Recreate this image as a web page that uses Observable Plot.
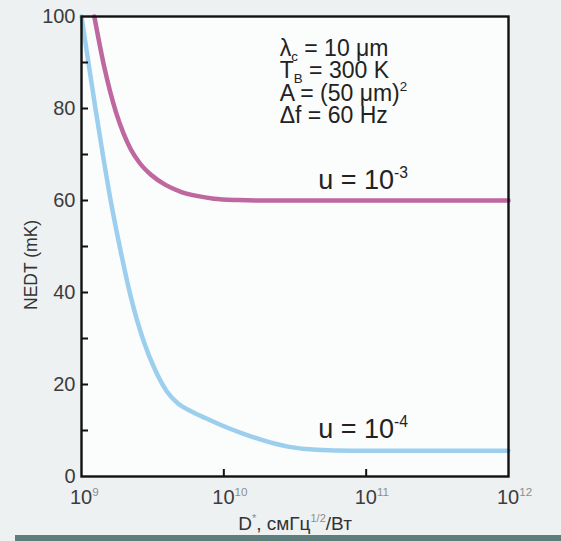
<!DOCTYPE html>
<html>
<head>
<meta charset="utf-8">
<script src="https://cdn.jsdelivr.net/npm/d3@7"></script>
<script src="https://cdn.jsdelivr.net/npm/@observablehq/plot@0.6"></script>
<style>
  html, body { margin: 0; padding: 0; }
  body { width: 561px; height: 541px; overflow: hidden; background: #edf1f2; position: relative;
         font-family: "Liberation Sans", Arial, Helvetica, sans-serif; }
  #bar { position: absolute; left: 15px; top: 535px; width: 546px; height: 6px; background: #5e7e7e; }
</style>
</head>
<body>
<div id="chart"></div>
<div id="bar"></div>
<script>
// ---- data ----
// u = 10^-4 curve: log10(D*) and NEDT (mK)
const logD_u4 = [9.0, 9.049, 9.1, 9.153, 9.209, 9.273, 9.346, 9.438, 9.52, 9.6, 9.68, 9.77, 9.87, 9.979, 10.12, 10.26, 10.45, 10.65, 10.9, 11.5, 12.0];
const nedt_u4 = [100, 89.9, 79.6, 69.4, 59.3, 49.3, 39.1, 29.3, 23.0, 18.5, 15.8, 14.2, 12.7, 11.2, 9.5, 8.0, 6.5, 5.8, 5.6, 5.6, 5.6];
// u = 10^-3 curve
const logD_u3 = [9.09, 9.16, 9.242, 9.295, 9.347, 9.41, 9.488, 9.59, 9.698, 9.81, 9.93, 10.1, 10.26, 11.0, 12.0];
const nedt_u3 = [100, 89.0, 79.2, 74.6, 71.1, 68.1, 65.6, 63.4, 61.9, 61.0, 60.4, 60.1, 60.0, 60.0, 60.0];

const seriesNames = ["u = 10^{-4}", "u = 10^{-3}"];
const seriesColors = ["#9ccfee", "#bf679f"];

const xTickValues = [1e9, 1e10, 1e11, 1e12];
const yTickLabels = [0, 20, 40, 60, 80, 100];
const yMinorTicks = [10, 20, 30, 40, 50, 60, 70, 80, 90];
const xInnerTicks = [1e10, 1e11];

const annotationLines = ["λ_{c} = 10 μm", "T_{B} = 300 K", "A = (50 μm)^{2}", "Δf = 60 Hz"];
const xLabel = "D^{*}, смГц^{1/2}/Вт";
const yLabel = "NEDT (mK)";

// label anchors (data units)
const seriesLabelX = 4.6e10;
const seriesLabelY = [8.4, 62.6];
const annotX = 2.47e10;
const annotTopY = 91.4;
const annotStep = 4.85;
const yLabelY = 46;

// ---- build tables ----
const u4 = logD_u4.map((l, i) => ({d: Math.pow(10, l), v: nedt_u4[i]}));
const u3 = logD_u3.map((l, i) => ({d: Math.pow(10, l), v: nedt_u3[i]}));

const W = 561, H = 535;
const mL = 81, mR = 53, mT = 16, mB = 59;
const plotW = W - mL - mR, plotH = H - mT - mB;
const font = "Liberation Sans, Arial, Helvetica, sans-serif";

const chart = Plot.plot({
  width: W, height: H,
  marginLeft: mL, marginRight: mR, marginTop: mT, marginBottom: mB,
  style: {background: "transparent", fontFamily: font, overflow: "visible"},
  x: {type: "log", domain: [1e9, 1e12], axis: null},
  y: {domain: [0, 100], axis: null},
  marks: [
    Plot.frame({fill: "#fbfcfc", stroke: null}),
    Plot.line(u3, {x: "d", y: "v", stroke: seriesColors[1], strokeWidth: 4.5, curve: "monotone-x"}),
    Plot.line(u4, {x: "d", y: "v", stroke: seriesColors[0], strokeWidth: 4.5, curve: "monotone-x"}),
    Plot.tickY(yMinorTicks, {y: d => d, stroke: "#111", strokeWidth: 2, insetRight: plotW - 7}),
    Plot.tickX(xInnerTicks, {x: d => d, stroke: "#111", strokeWidth: 2, insetTop: plotH - 7}),
    Plot.frame({stroke: "#111", strokeWidth: 2.4}),
    // y tick labels
    Plot.text(yTickLabels, {y: d => d, frameAnchor: "left", text: d => String(d), textAnchor: "end",
      dx: -6, fontSize: 20, fill: "#3c3c3c"}),
    // x tick labels
    Plot.text(xTickValues, {x: d => d, frameAnchor: "bottom", text: d => "10^{" + Math.round(Math.log10(d)) + "}",
      textAnchor: "start", dx: -11.5, dy: 27, lineAnchor: "bottom", fontSize: 20, fill: "#3c3c3c"}),
    // axis labels
    Plot.text([xLabel], {frameAnchor: "bottom", text: d => d, dy: 53, lineAnchor: "bottom", fontSize: 19, fill: "#333"}),
    Plot.text([yLabel], {frameAnchor: "left", y: () => yLabelY, text: d => d, rotate: -90, dx: -50,
      textAnchor: "middle", fontSize: 17.5, fill: "#333"}),
    // series labels
    Plot.text(seriesNames, {x: () => seriesLabelX, y: (d, i) => seriesLabelY[i], text: d => d,
      textAnchor: "start", lineAnchor: "bottom", fontSize: 27, fill: "#222"}),
    // parameter annotation
    Plot.text(annotationLines, {x: () => annotX, y: (d, i) => annotTopY - i * annotStep, text: d => d,
      textAnchor: "start", lineAnchor: "bottom", fontSize: 23, fill: "#222"})
  ]
});

document.getElementById("chart").appendChild(chart);

// rich text: ^{...} superscript, _{...} subscript
function rich(el) {
  const s = el.textContent;
  const re = /([\^_])\{([^}]*)\}/g;
  if (!/[\^_]\{/.test(s)) return;
  const fs = parseFloat(getComputedStyle(el).fontSize) || 16;
  const isTick = /^10\^\{\d+\}$/.test(s) || s.startsWith("D^");
  el.textContent = "";
  let last = 0, shift = 0, m;
  const add = (txt, dy, size, fill) => {
    const t = document.createElementNS("http://www.w3.org/2000/svg", "tspan");
    t.textContent = txt;
    if (dy) t.setAttribute("dy", dy);
    if (size) t.setAttribute("font-size", size);
    if (fill) t.setAttribute("fill", fill);
    el.appendChild(t);
  };
  while ((m = re.exec(s))) {
    if (m.index > last) { add(s.slice(last, m.index), -shift || null); shift = 0; }
    const sup = m[1] === "^";
    const d = sup ? -0.4 * fs : 0.22 * fs;
    add(m[2], d - shift, 0.58 * fs, sup && isTick ? "#8e8e8e" : null);
    shift = d;
    last = re.lastIndex;
  }
  if (last < s.length) add(s.slice(last), -shift || null);
}
chart.querySelectorAll("text").forEach(rich);
</script>
</body>
</html>
